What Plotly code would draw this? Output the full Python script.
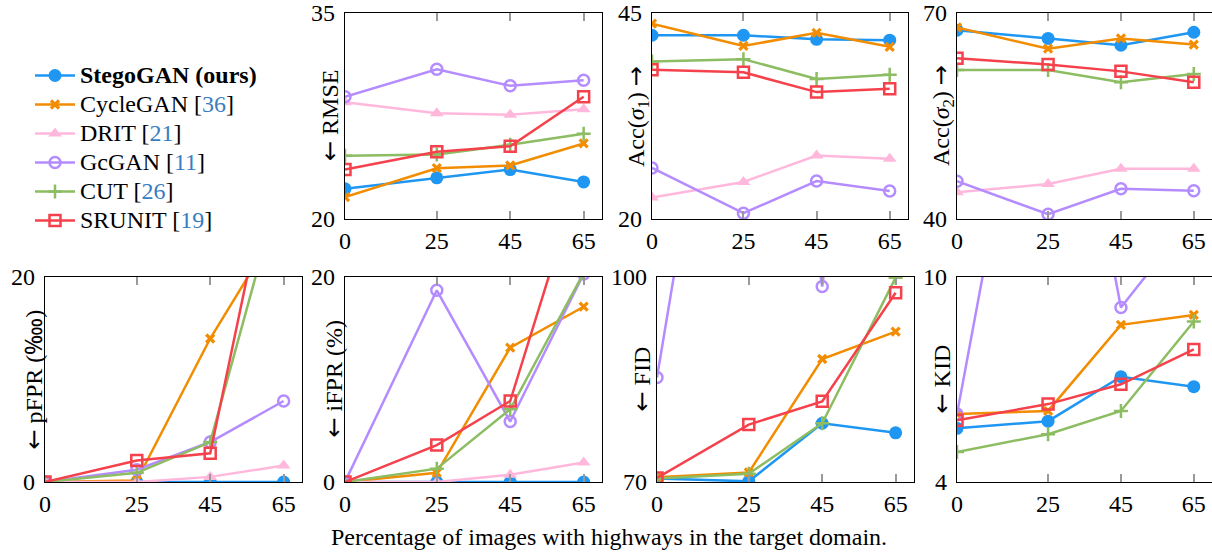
import plotly.graph_objects as go

W, H = 1212, 552

x_vals = [0, 25, 45, 65]
x_ticks = [0, 25, 45, 65]

methods = ["StegoGAN", "CycleGAN", "DRIT", "GcGAN", "CUT", "SRUNIT"]
CITE = "<span style='color:#3a7dc0'>{}</span>"
legend_names = [
    "<b>StegoGAN (ours)</b>",
    "CycleGAN [" + CITE.format("36") + "]",
    "DRIT [" + CITE.format("21") + "]",
    "GcGAN [" + CITE.format("11") + "]",
    "CUT [" + CITE.format("26") + "]",
    "SRUNIT [" + CITE.format("19") + "]",
]

# metric values per method (x = 0, 25, 45, 65)
rmse = {
    "StegoGAN": [22.2, 23.0, 23.6, 22.7],
    "CycleGAN": [21.6, 23.7, 23.9, 25.5],
    "DRIT": [28.5, 27.7, 27.6, 28.0],
    "GcGAN": [28.9, 30.9, 29.7, 30.1],
    "CUT": [24.6, 24.7, 25.4, 26.2],
    "SRUNIT": [23.6, 24.9, 25.3, 28.9],
}
acc1 = {
    "StegoGAN": [42.3, 42.3, 41.8, 41.7],
    "CycleGAN": [43.7, 41.0, 42.6, 40.9],
    "DRIT": [22.6, 24.5, 27.7, 27.3],
    "GcGAN": [26.2, 20.7, 24.6, 23.4],
    "CUT": [39.1, 39.4, 37.0, 37.5],
    "SRUNIT": [38.1, 37.8, 35.4, 35.8],
}
acc2 = {
    "StegoGAN": [67.5, 66.3, 65.3, 67.2],
    "CycleGAN": [67.9, 64.8, 66.3, 65.4],
    "DRIT": [43.9, 45.1, 47.3, 47.3],
    "GcGAN": [45.5, 40.7, 44.4, 44.1],
    "CUT": [61.7, 61.7, 59.9, 61.1],
    "SRUNIT": [63.4, 62.5, 61.5, 59.9],
}
pfpr = {
    "StegoGAN": [0.0, 0.0, 0.0, 0.0],
    "CycleGAN": [0.0, 0.15, 14.0, 25.7],
    "DRIT": [0.0, 0.0, 0.5, 1.6],
    "GcGAN": [0.0, 1.2, 3.9, 7.9],
    "CUT": [0.0, 0.9, 3.9, 30.0],
    "SRUNIT": [0.0, 2.1, 2.8, 37.0],
}
ifpr = {
    "StegoGAN": [0.0, 0.0, 0.0, 0.0],
    "CycleGAN": [0.0, 0.9, 13.1, 17.1],
    "DRIT": [0.0, 0.0, 0.7, 1.9],
    "GcGAN": [0.0, 18.7, 5.9, 20.3],
    "CUT": [0.0, 1.3, 7.1, 20.4],
    "SRUNIT": [0.0, 3.6, 7.9, 31.0],
}
fid = {
    "StegoGAN": [70.5, 70.1, 78.6, 77.2],
    "CycleGAN": [70.7, 71.4, 88.0, 92.0],
    "DRIT": [None, None, None, None],
    "GcGAN": [85.3, 166.0, 98.6, 180.0],
    "CUT": [70.5, 71.2, 78.6, 99.9],
    "SRUNIT": [70.6, 78.4, 81.8, 97.7],
}
kid = {
    "StegoGAN": [5.57, 5.78, 7.08, 6.79],
    "CycleGAN": [5.99, 6.08, 8.60, 8.89],
    "DRIT": [None, None, None, None],
    "GcGAN": [5.99, 20.3, 9.11, 11.8],
    "CUT": [4.88, 5.40, 6.08, 8.70],
    "SRUNIT": [5.81, 6.28, 6.86, 7.88],
}

colors = {
    "StegoGAN": "#1f97f2",
    "CycleGAN": "#f28c00",
    "DRIT": "#ffb8dc",
    "GcGAN": "#b48cff",
    "CUT": "#8cbd62",
    "SRUNIT": "#f5414b",
}
markers = {
    "StegoGAN": dict(symbol="circle", size=13),
    "CycleGAN": dict(symbol="x-thin-open", size=8, line=dict(width=3.2)),
    "DRIT": dict(symbol="triangle-up", size=12),
    "GcGAN": dict(symbol="circle-open", size=11, line=dict(width=2.5)),
    "CUT": dict(symbol="cross-thin-open", size=10, line=dict(width=2.5)),
    "SRUNIT": dict(symbol="square-open", size=11, line=dict(width=2.5)),
}

LARR = "<span style='font-family:DejaVu Sans'>←</span>"
RARR = "<span style='font-family:DejaVu Sans'>→</span>"

# panels: (data, y range, title, left px, right px, top px, bottom px, title x px)
panels = [
    (rmse, [20, 35], LARR + " RMSE", 345, 602, 13, 219, 330),
    (acc1, [20, 45], "Acc(<i>σ</i><sub>1</sub>) " + RARR, 652, 908, 13, 219, 637),
    (acc2, [40, 70], "Acc(<i>σ</i><sub>2</sub>) " + RARR, 957, 1212, 13, 219, 942),
    (pfpr, [0, 20], LARR + " pFPR (‱)", 45, 302, 277, 482, 33),
    (ifpr, [0, 20], LARR + " iFPR (%)", 345, 602, 277, 482, 333),
    (fid, [70, 100], LARR + " FID", 657, 914, 277, 482, 641),
    (kid, [4, 10], LARR + " KID", 957, 1212, 277, 482, 941),
]

FONT = "Liberation Serif, Times New Roman, serif"
FS = 24
fig = go.Figure()
layout = dict(
    width=W, height=H,
    margin=dict(l=0, r=0, t=0, b=0, autoexpand=False),
    paper_bgcolor="white", plot_bgcolor="white",
    font=dict(family=FONT, size=FS, color="black"),
    showlegend=True,
)
annotations = []

for i, (data, yr, title, l, r, t, b, tx) in enumerate(panels, start=1):
    xa = "x" if i == 1 else f"x{i}"
    ya = "y" if i == 1 else f"y{i}"
    for mi, m in enumerate(methods):
        mk = dict(markers[m])
        mk["color"] = colors[m]
        fig.add_trace(go.Scatter(
            x=x_vals, y=data[m], mode="lines+markers",
            line=dict(color=colors[m], width=2.5),
            marker=mk,
            name="<span style='font-size:24px'>" + legend_names[mi] + "</span>",
            legendgroup=m, showlegend=(i == 1),
            xaxis=xa, yaxis=ya, cliponaxis=True,
        ))
    layout[f"xaxis{i if i > 1 else ''}"] = dict(
        domain=[l / W, min(r / W, 1.0)], anchor=ya, range=[0, 70],
        tickvals=x_ticks, ticks="inside", ticklen=8, tickwidth=1.5,
        tickcolor="#9a9a9a", showline=True, linecolor="black", linewidth=1.2,
        mirror="ticks", showgrid=False, zeroline=False, automargin=False,
        tickfont=dict(size=FS), fixedrange=True,
    )
    layout[f"yaxis{i if i > 1 else ''}"] = dict(
        domain=[(H - b) / H, (H - t) / H], anchor=xa, range=yr,
        tickvals=yr, ticks="", showline=True, linecolor="black", linewidth=1.2,
        mirror=True, showgrid=False, zeroline=False, automargin=False,
        tickfont=dict(size=FS), ticklabelstandoff=4, fixedrange=True,
    )
    annotations.append(dict(
        text=title, x=tx / W, y=(H - (t + b) / 2) / H, xref="paper", yref="paper",
        showarrow=False, textangle=-90, font=dict(size=FS),
        xanchor="center", yanchor="middle",
    ))

annotations.append(dict(
    text="Percentage of images with highways in the target domain.",
    x=609 / W, y=(H - 537) / H, xref="paper", yref="paper", showarrow=False,
    font=dict(size=FS), xanchor="center", yanchor="middle",
))

layout["annotations"] = annotations
layout["legend"] = dict(
    x=30 / W, y=(H - 56) / H, xanchor="left", yanchor="top",
    font=dict(size=20, family=FONT), bgcolor="rgba(0,0,0,0)",
    tracegroupgap=0, itemwidth=40,
)
fig.update_layout(**layout)
fig.write_html(
    "out.html",
    config={"displayModeBar": False},
    post_script="document.body.style.margin='0px';document.body.style.overflow='hidden';",
)
